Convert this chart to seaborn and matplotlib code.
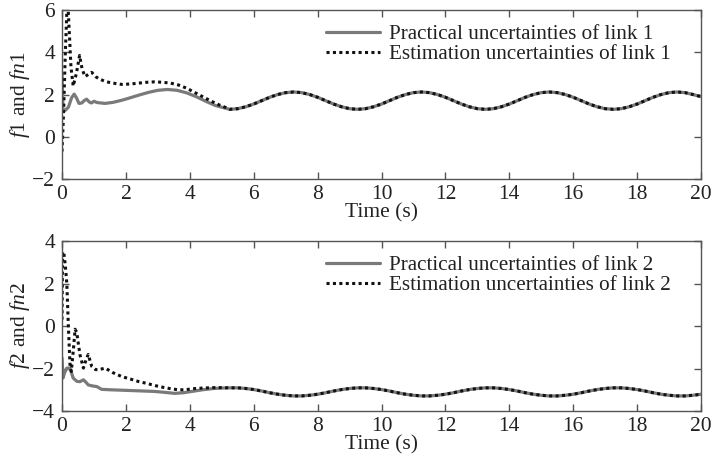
import matplotlib
matplotlib.use("Agg")
import matplotlib.pyplot as plt
import seaborn as sns
import pandas as pd

# ---- link 1: practical uncertainty f1 and its estimate fn1 ----
t1_prac = [0, 0.03, 0.1, 0.2, 0.3, 0.38, 0.45, 0.53, 0.62, 0.7, 0.77, 0.85,
           0.92, 1.0, 1.1, 1.35, 1.6, 1.87, 2.1, 2.4, 2.7, 3.0, 3.3, 3.6,
           3.9, 4.2, 4.5, 4.8, 5.0]
f1_prac = [3.0, 1.3, 1.25, 1.4, 1.85, 2.02, 1.85, 1.58, 1.6, 1.72, 1.78, 1.65,
           1.6, 1.68, 1.62, 1.58, 1.63, 1.73, 1.83, 1.97, 2.1, 2.2, 2.24, 2.2,
           2.08, 1.9, 1.68, 1.48, 1.4]

t1_est = [0, 0.05, 0.1, 0.15, 0.18, 0.22, 0.28, 0.35, 0.45, 0.55, 0.63, 0.72,
          0.82, 0.93, 1.05, 1.15, 1.35, 1.55, 1.87, 2.15, 2.4, 2.65, 2.9,
          3.15, 3.4, 3.65, 3.9, 4.15, 4.4, 4.65, 4.9, 5.1]
f1_est = [-0.7, 1.2, 3.8, 5.9, 6.4, 5.2, 3.3, 2.4, 3.0, 3.85, 3.2, 2.85,
          2.95, 3.05, 2.85, 2.75, 2.62, 2.55, 2.48, 2.5, 2.54, 2.58, 2.6,
          2.58, 2.54, 2.45, 2.3, 2.1, 1.9, 1.7, 1.52, 1.4]

# steady-state part, sampled every 0.25 s from 5.25 s to 20 s
t_steady = [5.25, 5.5, 5.75, 6.0, 6.25, 6.5, 6.75, 7.0, 7.25, 7.5, 7.75, 8.0,
            8.25, 8.5, 8.75, 9.0, 9.25, 9.5, 9.75, 10.0, 10.25, 10.5, 10.75,
            11.0, 11.25, 11.5, 11.75, 12.0, 12.25, 12.5, 12.75, 13.0, 13.25,
            13.5, 13.75, 14.0, 14.25, 14.5, 14.75, 15.0, 15.25, 15.5, 15.75,
            16.0, 16.25, 16.5, 16.75, 17.0, 17.25, 17.5, 17.75, 18.0, 18.25,
            18.5, 18.75, 19.0, 19.25, 19.5, 19.75, 20.0]
f1_steady = [1.30, 1.33, 1.42, 1.55, 1.71, 1.87, 2.00, 2.09, 2.12, 2.09, 2.00,
             1.87, 1.71, 1.55, 1.42, 1.33,
             1.30, 1.33, 1.42, 1.55, 1.71, 1.87, 2.00, 2.09, 2.12, 2.09, 2.00,
             1.87, 1.71, 1.55, 1.42, 1.33,
             1.30, 1.33, 1.42, 1.55, 1.71, 1.87, 2.00, 2.09, 2.12, 2.09, 2.00,
             1.87, 1.71, 1.55, 1.42, 1.33,
             1.30, 1.33, 1.42, 1.55, 1.71, 1.87, 2.00, 2.09, 2.12, 2.09, 2.00,
             1.90]

# ---- link 2: practical uncertainty f2 and its estimate fn2 ----
t2_prac = [0, 0.03, 0.08, 0.15, 0.25, 0.35, 0.46, 0.56, 0.67, 0.75, 0.82,
           0.95, 1.09, 1.24, 1.5, 1.87, 2.4, 2.9, 3.2, 3.53, 3.8, 4.06, 4.4,
           4.75, 5.0]
f2_prac = [-1.5, -2.45, -2.2, -1.98, -1.98, -2.45, -2.6, -2.62, -2.53, -2.65,
           -2.77, -2.82, -2.85, -2.98, -3.0, -3.02, -3.05, -3.08, -3.12,
           -3.17, -3.14, -3.08, -3.0, -2.94, -2.92]

t2_est = [0, 0.02, 0.06, 0.1, 0.15, 0.2, 0.25, 0.29, 0.35, 0.41, 0.46, 0.56,
          0.67, 0.75, 0.82, 0.93, 1.05, 1.14, 1.35, 1.6, 1.87, 2.15, 2.39,
          2.65, 2.9, 3.15, 3.43, 3.65, 3.84, 4.1, 4.4, 4.75, 5.0]
f2_est = [0.3, 3.5, 3.4, 2.9, 2.0, -0.06, -1.82, -2.14, -1.2, -0.15, -0.3,
          -1.34, -1.98, -1.6, -1.34, -1.9, -2.05, -2.06, -1.98, -2.2, -2.38,
          -2.5, -2.61, -2.7, -2.8, -2.88, -2.96, -3.0, -3.0, -2.95, -2.92,
          -2.9, -2.9]

f2_steady = [-2.91, -2.91, -2.94, -2.99, -3.06, -3.14, -3.21, -3.26, -3.29,
             -3.29, -3.26, -3.21, -3.14, -3.06, -2.99, -2.94,
             -2.91, -2.91, -2.94, -2.99, -3.06, -3.14, -3.21, -3.26, -3.29,
             -3.29, -3.26, -3.21, -3.14, -3.06, -2.99, -2.94,
             -2.91, -2.91, -2.94, -2.99, -3.06, -3.14, -3.21, -3.26, -3.29,
             -3.29, -3.26, -3.21, -3.14, -3.06, -2.99, -2.94,
             -2.91, -2.91, -2.94, -2.99, -3.06, -3.14, -3.21, -3.26, -3.29,
             -3.29, -3.26, -3.21]

x_ticks = [0, 2, 4, 6, 8, 10, 12, 14, 16, 18, 20]
y_ticks_1 = [-2, 0, 2, 4, 6]
y_ticks_2 = [-4, -2, 0, 2, 4]

labels_1 = ["Practical uncertainties of link 1", "Estimation uncertainties of link 1"]
labels_2 = ["Practical uncertainties of link 2", "Estimation uncertainties of link 2"]
ylabel_1 = r"$f$1 and $fn$1"
ylabel_2 = r"$f$2 and $fn$2"
xlabel = "Time (s)"

sns.set_theme(style="ticks")
plt.rcParams.update({
    "font.family": ["Liberation Serif", "DejaVu Serif"],
    "mathtext.fontset": "custom",
    "mathtext.rm": "Liberation Serif",
    "mathtext.it": "Liberation Serif:italic",
    "font.size": 15.5,
    "axes.edgecolor": "#555555",
    "axes.linewidth": 1.0,
    "xtick.color": "#555555",
    "ytick.color": "#555555",
    "xtick.labelcolor": "#222222",
    "ytick.labelcolor": "#222222",
    "axes.labelcolor": "#222222",
    "text.color": "#222222",
})

SOLID = "#7a7a7a"
DOTTED = "#111111"

fig = plt.figure(figsize=(7.12, 4.65), dpi=100)
ax1 = fig.add_axes([0.0871, 0.615, 0.8975, 0.3634])
ax2 = fig.add_axes([0.0871, 0.1161, 0.8975, 0.3656])


def draw(ax, tp, yp, te, ye, ys, labels):
    prac = pd.DataFrame({"t": tp + t_steady, "v": yp + ys})
    est = pd.DataFrame({"t": te + t_steady, "v": ye + ys})
    sns.lineplot(data=prac, x="t", y="v", ax=ax, color=SOLID, lw=2.3,
                 label=labels[0], sort=False, estimator=None)
    sns.lineplot(data=est, x="t", y="v", ax=ax, color=DOTTED, lw=2.2,
                 linestyle=(0, (1, 1.1)), label=labels[1], sort=False,
                 estimator=None)


draw(ax1, t1_prac, f1_prac, t1_est, f1_est, f1_steady, labels_1)
draw(ax2, t2_prac, f2_prac, t2_est, f2_est, f2_steady, labels_2)

for ax, yt, ylab in ((ax1, y_ticks_1, ylabel_1), (ax2, y_ticks_2, ylabel_2)):
    ax.set_xlim(0, 20)
    ax.set_ylim(yt[0], yt[-1])
    ax.set_xticks(x_ticks)
    ax.set_yticks(yt)
    ax.tick_params(direction="in", length=5, width=1, top=True, right=True,
                   pad=5, labelsize=15.5)
    ax.tick_params(axis="x", pad=4)
    for s in ax.spines.values():
        s.set_visible(True)
    ax.set_xlabel(xlabel, fontsize=15.5, labelpad=0)
    ax.set_ylabel(ylab, fontsize=15.5, labelpad=0)
    ax.legend(loc="upper right", bbox_to_anchor=(0.963, 0.953), frameon=False,
              fontsize=15.2, handlelength=2.55, handletextpad=0.45,
              labelspacing=0.02, borderpad=0.3, borderaxespad=0.0)

fig.savefig("out.png", dpi=100)
